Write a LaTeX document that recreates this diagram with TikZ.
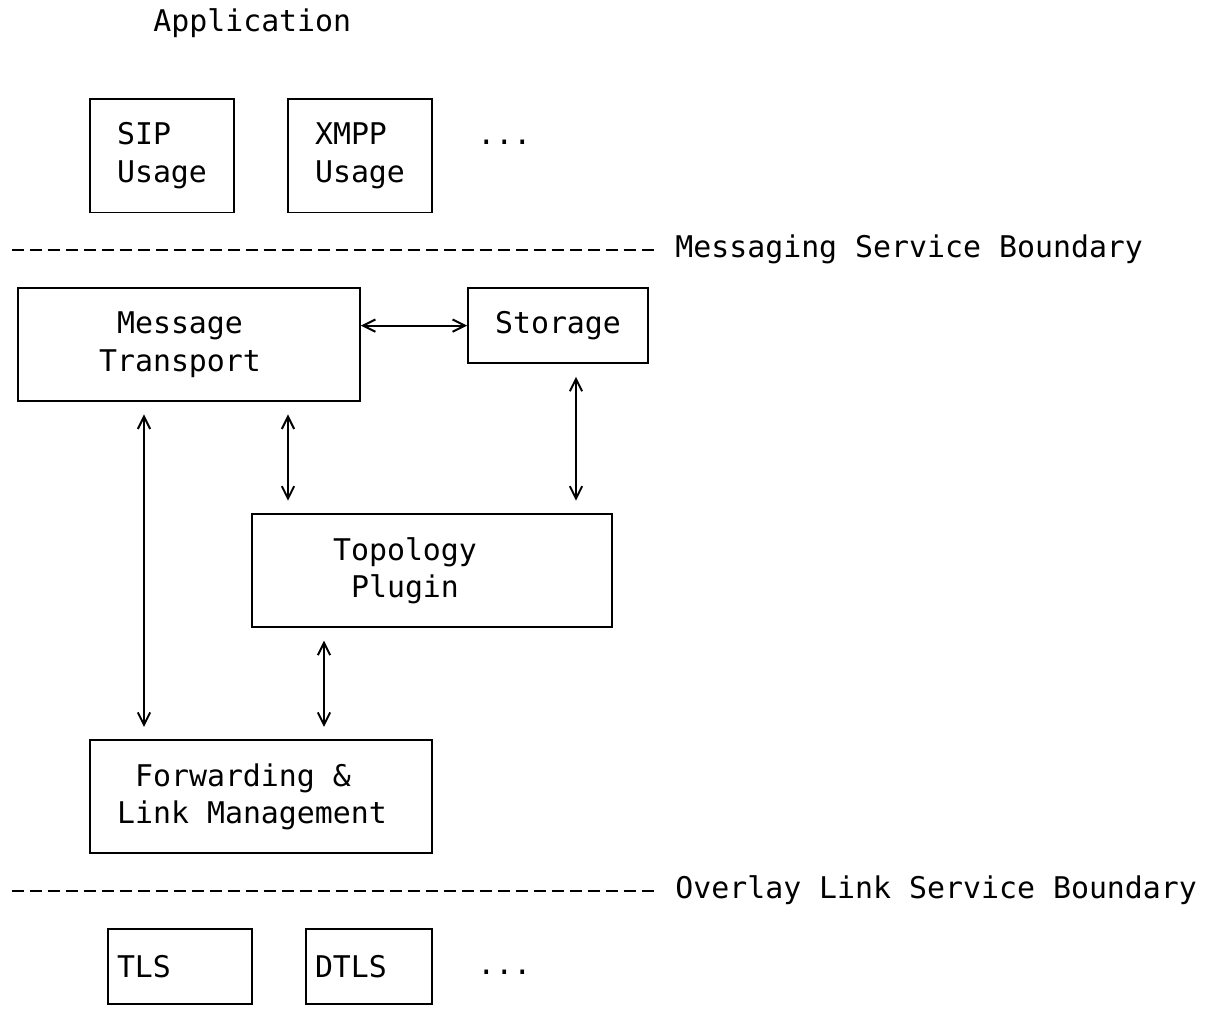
\documentclass[tikz,border=0pt]{standalone}
\usepackage{fontspec}
\setmonofont{DejaVu Sans Mono}
\usetikzlibrary{arrows.meta}

\tikzset{
    plain/.style={anchor=west, inner sep=0pt, text height=12.9pt, text depth=4.1pt},
    boundary/.style={line width=1.1pt, dash pattern=on 0.254cm off 0.106cm},
}

\begin{document}
\begin{tikzpicture}[x=0.36cm, y=-0.754cm, font=\ttfamily\fontsize{17}{21.45}\selectfont]
                \useasboundingbox (-1,-0.637) rectangle (66.222,26.259);
                \node[plain] (app) at (7.5,0) {Application};
                \begin{scope}[every node/.style={draw, rectangle, line width=1.1pt, inner sep=0pt, align=center}]
                        \node[minimum width=2.88cm, minimum height=2.262cm, align=left] (sip) at (8,3.5) {SIP\\Usage};
                        \node[minimum width=2.88cm, minimum height=2.262cm, align=left] (xmpp) at (19,3.5) {XMPP\\Usage};
                        \node[minimum width=6.84cm, minimum height=2.262cm] (mt) at (9.5,8.5) {Message\hspace*{0.36cm}\\Transport\hspace*{0.36cm}};
                        \node[minimum width=3.6cm, minimum height=1.508cm] (st) at (30,8) {Storage};
                        \node[minimum width=7.2cm, minimum height=2.262cm] (tp) at (23,14.5) {Topology\hspace*{1.08cm}\\Plugin\hspace*{1.08cm}};
                        \node[minimum width=6.84cm, minimum height=2.262cm] (flm) at (13.5,20.5) {Forwarding \&\hspace*{0.72cm}\\Link Management\hspace*{0.36cm}};
                        \node[minimum height=1.508cm, text width=2.52cm, inner xsep=0.18cm, align=left] (tls) at (9,25) {TLS};
                        \node[minimum height=1.508cm, text width=2.16cm, inner xsep=0.18cm, align=left] (dtls) at (19.5,25) {DTLS};
                \end{scope}
                \node[plain] (dots1) at (25.5,3) {...};
                \node[plain] (dots2) at (25.5,25) {...};
                % service boundaries
                \node[plain, inner xsep=0.414cm] (msb) at (35.35,6) {Messaging Service Boundary};
                \coordinate (msbL) at (-0.35,6);
                \draw[boundary] (msbL) -- (msb.west);
                \node[plain, inner xsep=0.414cm] (olsb) at (35.35,23) {Overlay Link Service Boundary};
                \coordinate (olsbL) at (-0.35,23);
                \draw[boundary] (olsbL) -- (olsb.west);
                \begin{scope}[every path/.style={line width=1.1pt, <->, >={Straight Barb[length=7pt, width=7pt]}}]
                        \draw (mt.east |- st.west) -- (st.west);
                        \draw[shorten <=0.25cm, shorten >=0.25cm] ([xshift=0.36cm]st.south) -- ([xshift=0.36cm]st.south |- tp.north);
                        \draw[shorten <=0.25cm, shorten >=0.25cm] ([xshift=-0.9cm]mt.south) -- ([xshift=-0.9cm]mt.south |- flm.north);
                        \draw[shorten <=0.25cm, shorten >=0.25cm] ([xshift=1.98cm]mt.south) -- ([xshift=1.98cm]mt.south |- tp.north);
                        \draw[shorten <=0.25cm, shorten >=0.25cm] ([xshift=-2.16cm]tp.south) -- ([xshift=-2.16cm]tp.south |- flm.north);
                \end{scope}
\end{tikzpicture}
\end{document}
